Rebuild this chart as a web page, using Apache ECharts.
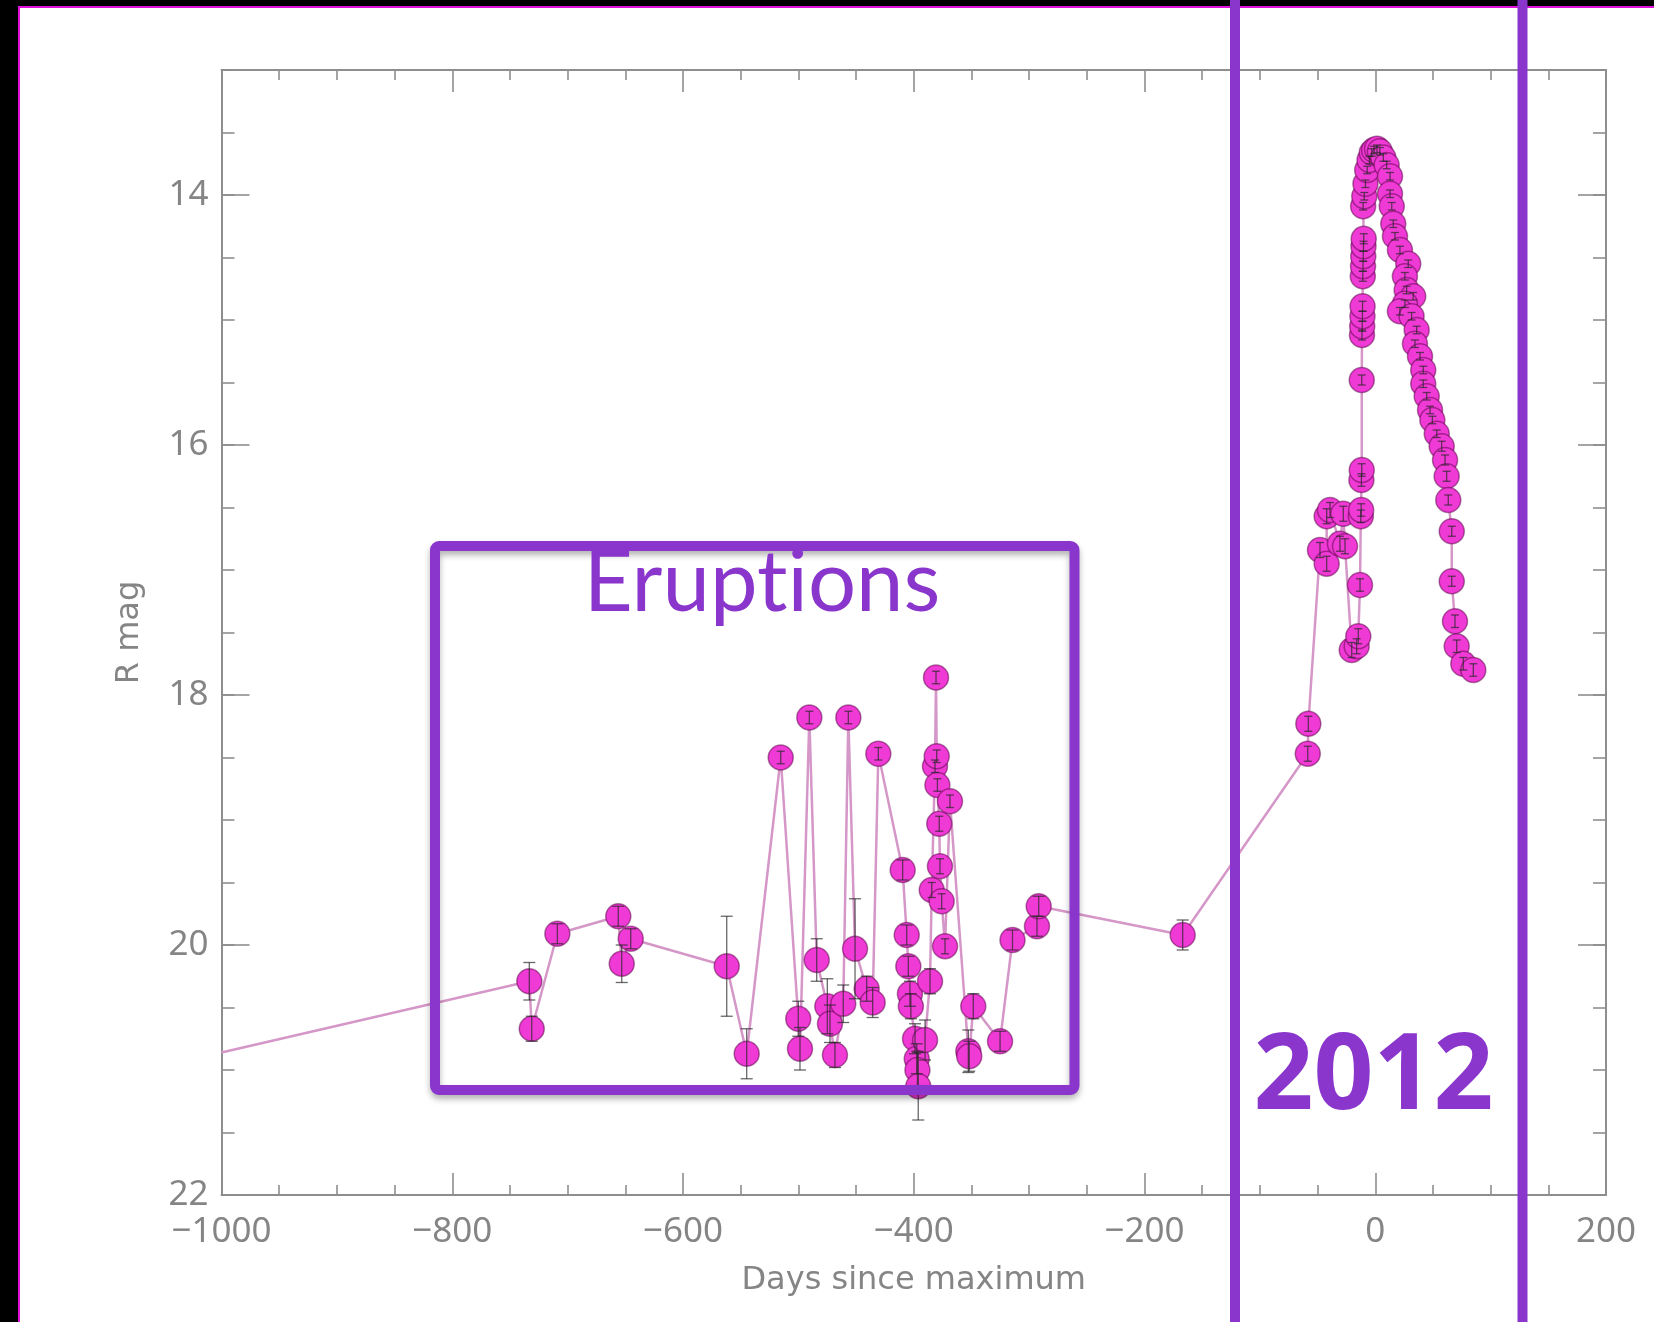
<!DOCTYPE html>
<html><head><meta charset="utf-8">
<script src="https://cdn.jsdelivr.net/npm/echarts@6/dist/echarts.min.js"></script>
<style>
html,body{margin:0;padding:0;background:#000;width:1654px;height:1322px;overflow:hidden;}
#panel{position:absolute;left:18px;top:6px;width:1636px;height:1316px;background:#fff;box-sizing:border-box;border-left:2px solid #E010D8;border-top:2px solid #E010D8;}
#chart{position:absolute;left:0;top:0;width:1654px;height:1322px;}
</style></head><body>
<div id="panel"></div><div id="chart"></div>
<script>
// Days since maximum
const days = [
 -1000,
 -733.2,-731.1,-708.9,-656.1,-653.1,-645.3,-562.1,-544.8,-515.3,-500.1,
 -498.6,-490.5,-484.1,-474.9,-472.6,-468.3,-461.1,-456.7,-450.9,-440.8,
 -435.6,-430.7,-409.6,-406.1,-404.7,-403.3,-402.5,-398.9,-397.4,-396.8,
 -396.1,-390.2,-385.9,-384.4,-381.6,-380.7,-380.1,-379.5,-377.9,-377.3,
 -375.8,-372.9,-368.6,-352.7,-351.9,-348.4,-325.2,-314.4,-293.2,-291.7,
 -166.9,-58.5,-58.0,
 -47.9,-42.1,-42.1,-39.2,-30.6,-27.7,-26.2,-20.4,-16.1,-14.7,
 -13.2,-12.5,-12.2,-12.0,-11.7,-11.7,-11.5,-11.3,-11.1,-11.0,
 -10.8,-10.6,-10.4,-10.2,-10.0,-10.5,-9.5,-8.5,-7.0,-5.0,
 -3.0,-1.0,1.5,4.0,7.0,9.9,12.8,12.8,14.3,15.6,
 17.1,21.4,28.6,25.7,27.2,32.9,25.7,21.4,31.5,35.9,
 34.4,38.8,41.6,41.6,44.6,47.5,49.5,53.3,57.6,60.5,
 61.9,63.3,66.3,66.3,69.1,70.6,76.3,85.0
];
// R magnitude
const mags = [
 20.86,
 20.29,20.67,19.91,19.77,20.15,19.95,20.17,20.87,18.50,20.59,
 20.83,18.18,20.12,20.49,20.63,20.88,20.47,18.18,20.03,20.35,
 20.46,18.47,19.40,19.92,20.17,20.39,20.49,20.75,20.91,21.00,
 21.13,20.76,20.29,19.56,18.57,17.86,18.49,18.72,19.03,19.37,
 19.65,20.01,18.85,20.85,20.89,20.49,20.77,19.96,19.85,19.69,
 19.92,18.47,18.23,
 16.84,16.95,16.57,16.52,16.79,16.55,16.81,17.64,17.61,17.53,
 17.12,16.57,16.52,16.28,16.20,15.48,15.12,15.05,14.97,14.89,
 14.65,14.57,14.49,14.41,14.35,14.09,14.01,13.91,13.80,13.72,
 13.66,13.64,13.63,13.65,13.70,13.76,13.85,13.99,14.09,14.23,
 14.33,14.44,14.55,14.65,14.76,14.81,14.87,14.93,14.97,15.08,
 15.19,15.29,15.40,15.51,15.61,15.72,15.80,15.91,16.01,16.12,
 16.25,16.44,16.69,17.09,17.41,17.61,17.75,17.80
];
// magnitude errors
const errs = [
 0,
 0.15,0.10,0.08,0.08,0.15,0.08,0.40,0.20,0.05,0.14,
 0.17,0.05,0.17,0.22,0.15,0.10,0.15,0.05,0.40,0.10,
 0.12,0.05,0.08,0.08,0.08,0.10,0.10,0.12,0.12,0.15,
 0.27,0.16,0.10,0.06,0.05,0.05,0.05,0.05,0.06,0.06,
 0.06,0.06,0.05,0.17,0.12,0.10,0.08,0.08,0.08,0.08,
 0.12,0.06,0.06,
 0.06,0.06,0.06,0.06,0.06,0.06,0.06,0.06,0.06,0.06,
 0.05,0.05,0.05,0.05,0.05,0.04,0.04,0.04,0.04,0.04,
 0.04,0.04,0.04,0.04,0.04,0.03,0.03,0.03,0.03,0.03,
 0.03,0.03,0.03,0.03,0.03,0.03,0.03,0.03,0.03,0.03,
 0.03,0.03,0.03,0.03,0.03,0.03,0.03,0.03,0.03,0.03,
 0.03,0.03,0.03,0.03,0.03,0.03,0.03,0.03,0.04,0.04,
 0.04,0.04,0.04,0.04,0.05,0.05,0.05,0.05
];
const xTickLabels = [-1000,-800,-600,-400,-200,0,200];
const yTickLabels = [14,16,18,20,22];

const purple = '#8A36CC';
const axisGray = '#8e8e8e';
const labelStyle = {color:'#858585', fontFamily:'Noto Sans', fontSize:35};
const tickLine = {color:axisGray, width:1.6};

const chart = echarts.init(document.getElementById('chart'), null, {renderer:'canvas'});

const lineData = days.map((d,i)=> i===0 ? {value:[d,mags[i]], symbol:'none'} : [d,mags[i]]);
const errData = days.map((d,i)=>[d,mags[i],errs[i]]);

function yAxisBase(pos){
  return {type:'value', position:pos, min:13, max:22, inverse:true,
    splitLine:{show:false}, minorSplitLine:{show:false}};
}
function xAxisBase(pos){
  return {type:'value', position:pos, min:-1000, max:200, interval:200,
    axisLine:{show:true, onZero:false, lineStyle:{color:axisGray, width:2}},
    axisTick:{show:true, inside:true, length:22, lineStyle:tickLine},
    minorTick:{show:true, splitNumber:4, length:10, lineStyle:tickLine},
    splitLine:{show:false}, minorSplitLine:{show:false}};
}

const option = {
  animation:false,
  grid:{left:221.5, right:48, top:70, bottom:127, containLabel:false},
  xAxis:[
    Object.assign(xAxisBase('bottom'), {
      axisLabel:Object.assign({customValues:xTickLabels, margin:20,
        formatter:v=> v<0 ? '\u2212'+(-v) : String(v)}, labelStyle),
      name:'Days since maximum', nameLocation:'middle', nameGap:70,
      nameTextStyle:{color:'#858585', fontFamily:'DejaVu Sans', fontSize:32}
    }),
    Object.assign(xAxisBase('top'), {axisLabel:{show:false}})
  ],
  yAxis:[
    Object.assign(yAxisBase('left'), {
      interval:0.5,
      axisLine:{show:true, onZero:false, lineStyle:{color:axisGray, width:2}},
      axisTick:{show:true, inside:true, length:13, lineStyle:tickLine},
      axisLabel:Object.assign({customValues:yTickLabels, margin:13}, labelStyle),
      name:'R mag', nameLocation:'middle', nameGap:76, nameRotate:90,
      nameTextStyle:{color:'#858585', fontFamily:'DejaVu Sans', fontSize:32}
    }),
    Object.assign(yAxisBase('left'), {
      axisLine:{show:false, onZero:false},
      axisTick:{show:true, inside:true, length:28, customValues:yTickLabels, lineStyle:tickLine},
      axisLabel:{show:false}
    }),
    Object.assign(yAxisBase('right'), {
      interval:0.5,
      axisLine:{show:true, onZero:false, lineStyle:{color:axisGray, width:2}},
      axisTick:{show:true, inside:true, length:13, lineStyle:tickLine},
      axisLabel:{show:false}
    }),
    Object.assign(yAxisBase('right'), {
      axisLine:{show:false, onZero:false},
      axisTick:{show:true, inside:true, length:28, customValues:yTickLabels, lineStyle:tickLine},
      axisLabel:{show:false}
    })
  ],
  series:[
    {
      type:'line', xAxisIndex:0, yAxisIndex:0, z:2,
      data:lineData,
      symbol:'circle', symbolSize:25,
      lineStyle:{color:'#D596C8', width:2.5},
      itemStyle:{color:'#F03AD6', borderColor:'rgba(90,0,70,0.5)', borderWidth:1.5},
      clip:true
    },
    {
      type:'custom', xAxisIndex:0, yAxisIndex:0, z:4, clip:true,
      data:errData,
      renderItem:function(params, api){
        const x = api.value(0), y = api.value(1), e = api.value(2);
        if(!e || params.dataIndex===0) return null;
        const t = api.coord([x, y-e]), b = api.coord([x, y+e]);
        const w = e < 0.07 ? 4 : 6;
        const st = {stroke:'rgba(40,40,40,0.7)', lineWidth:1.3};
        return {type:'group', children:[
          {type:'line', shape:{x1:t[0],y1:t[1],x2:b[0],y2:b[1]}, style:st},
          {type:'line', shape:{x1:t[0]-w,y1:t[1],x2:t[0]+w,y2:t[1]}, style:st},
          {type:'line', shape:{x1:b[0]-w,y1:b[1],x2:b[0]+w,y2:b[1]}, style:st}
        ]};
      }
    }
  ],
  graphic:[
    {type:'rect', z:100, shape:{x:435, y:546, width:639.5, height:544, r:4},
     style:{fill:'none', stroke:purple, lineWidth:10, shadowBlur:6, shadowColor:'rgba(0,0,0,0.3)', shadowOffsetY:4}},
    {type:'line', z:100, shape:{x1:1235, y1:0, x2:1235, y2:1322}, style:{stroke:purple, lineWidth:10}},
    {type:'line', z:100, shape:{x1:1522.5, y1:0, x2:1522.5, y2:1322}, style:{stroke:purple, lineWidth:10}},
    {type:'text', z:101, style:{text:'Erupt\u200Cions', x:762, y:584, font:'normal 85px Lato', fill:purple,
      align:'center', verticalAlign:'middle', textAlign:'center', textVerticalAlign:'middle'}},
    {type:'text', z:101, style:{text:'2012', x:1373.5, y:1079, font:'bold 105px "Open Sans"', fill:purple,
      align:'center', verticalAlign:'middle', textAlign:'center', textVerticalAlign:'middle'}}
  ]
};
chart.setOption(option);
</script>
</body></html>
